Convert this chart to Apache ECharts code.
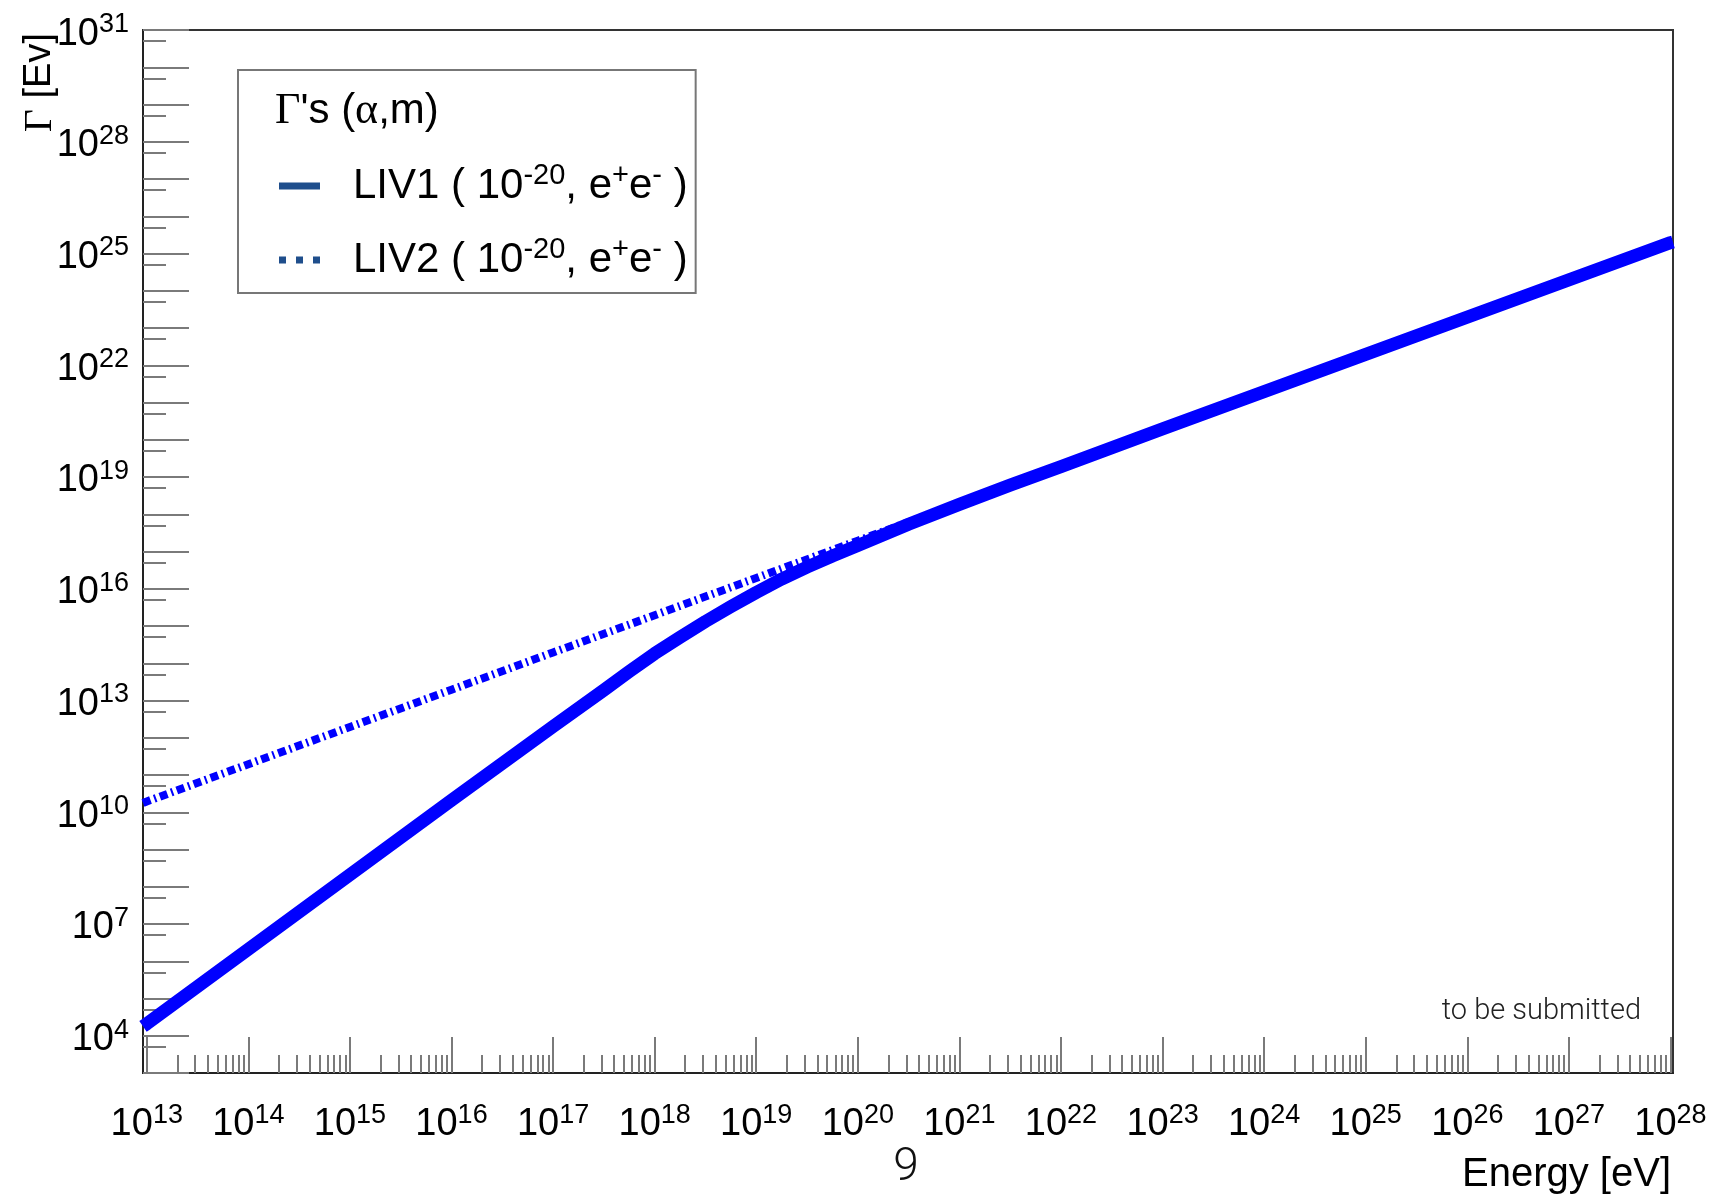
<!DOCTYPE html>
<html>
<head>
<meta charset="utf-8">
<script src="https://cdn.jsdelivr.net/npm/echarts@6/dist/echarts.min.js"></script>
<style>html,body{margin:0;padding:0;background:#fff;}#main{width:1712px;height:1197px;}</style>
</head>
<body>
<div id="main"></div>
<script>
// ---- data ----
const energyLIV1 = [9.18e12, 1e13, 1e14, 1e15, 1e16, 1e17, 3.16e17, 5.62e17, 1e18, 1.78e18, 3.16e18, 5.62e18, 1e19, 1.78e19, 3.16e19, 5.62e19, 1e20, 3.16e20, 1e21, 3.16e21, 1e22, 1e23, 1e24, 1e25, 1e26, 1e27, 1e28, 1.06e28];
const gammaLIV1  = [1.78e4, 2.09e4, 2.09e6, 2.09e8, 2.09e10, 2.0e12, 1.9e13, 6.03e13, 1.82e14, 5.01e14, 1.32e15, 3.31e15, 7.94e15, 1.82e16, 3.8e16, 7.59e16, 1.45e17, 5.4e17, 1.84e18, 6.03e18, 1.91e19, 1.95e20, 1.95e21, 1.95e22, 1.95e23, 1.95e24, 1.95e25, 2.04e25];
const energyLIV2 = [9.18e12, 1e13, 1e14, 1e15, 1e16, 1e17, 1e18, 1e19, 1e20, 1e21, 1e22, 1e23, 1e24, 1e25, 1e26, 1e27, 1e28, 1.06e28];
const gammaLIV2  = [1.78e10, 1.95e10, 1.95e11, 1.95e12, 1.95e13, 1.95e14, 1.95e15, 1.95e16, 1.95e17, 1.95e18, 1.95e19, 1.95e20, 1.95e21, 1.95e22, 1.95e23, 1.95e24, 1.95e25, 2.04e25];
const seriesNames = ['LIV1', 'LIV2'];
const xTickValues = [1e13,1e14,1e15,1e16,1e17,1e18,1e19,1e20,1e21,1e22,1e23,1e24,1e25,1e26,1e27,1e28];
const yLabelValues = [1e4,1e7,1e10,1e13,1e16,1e19,1e22,1e25,1e28,1e31];
const xMin = 9.18e12, xMax = 1.06e28, yMin = 1e3, yMax = 1.001e31;

// tick helpers
const xMinor = [];
for (let e = 12; e <= 27; e++) for (let k = 2; k <= 9; k++) { const v = k * Math.pow(10, e); if (v > xMin && v < xMax) xMinor.push(v); }
const yMajor = [];
for (let e = 3; e <= 31; e++) yMajor.push(Math.pow(10, e));
const yMinor = [];
for (let e = 3; e <= 30; e++) yMinor.push(5 * Math.pow(10, e));

const SANS = '"Liberation Sans", Arial, Helvetica, sans-serif';
const SERIF = '"Liberation Serif", "Times New Roman", serif';
const LIGHT = 'Roboto, "Open Sans", sans-serif';
const tickRich = {
  b: { fontFamily: SANS, fontSize: 38, lineHeight: 46, color: '#000' },
  s: { fontFamily: SANS, fontSize: 27, lineHeight: 20, color: '#000', verticalAlign: 'top' }
};
function powLabel(v) {
  const e = Math.round(Math.log10(v));
  return '{b|10}{s|' + e + '}';
}
const TICK = '#7a7a7a';

const chart = echarts.init(document.getElementById('main'), null, { renderer: 'canvas' });
const option = {
  animation: false,
  backgroundColor: '#fff',
  grid: { left: 143, right: 39, top: 30, bottom: 124, show: true, borderColor: '#333', borderWidth: 2, containLabel: false, outerBoundsMode: 'none' },
  xAxis: [
    { type: 'log', min: xMin, max: xMax, position: 'bottom',
      axisLine: { show: true, lineStyle: { color: '#222', width: 2 } },
      axisTick: { show: true, inside: true, length: 36, customValues: xTickValues, lineStyle: { color: TICK, width: 2 } },
      axisLabel: { show: true, customValues: xTickValues, margin: 29, formatter: powLabel, rich: tickRich },
      splitLine: { show: false }, minorTick: { show: false } },
    { type: 'log', min: xMin, max: xMax, position: 'bottom', offset: 0,
      axisLine: { show: false },
      axisTick: { show: true, inside: true, length: 18, customValues: xMinor, lineStyle: { color: TICK, width: 2 } },
      axisLabel: { show: false }, splitLine: { show: false } }
  ],
  yAxis: [
    { type: 'log', min: yMin, max: yMax, position: 'left',
      axisLine: { show: true, lineStyle: { color: '#222', width: 2 } },
      axisTick: { show: true, inside: true, length: 46, customValues: yMajor, lineStyle: { color: TICK, width: 2 } },
      axisLabel: { show: true, customValues: yLabelValues, margin: 14, padding: [8, 0, 0, 0], formatter: powLabel, rich: tickRich },
      splitLine: { show: false } },
    { type: 'log', min: yMin, max: yMax, position: 'left', offset: 0,
      axisLine: { show: false },
      axisTick: { show: true, inside: true, length: 23, customValues: yMinor, lineStyle: { color: TICK, width: 2 } },
      axisLabel: { show: false }, splitLine: { show: false } }
  ],
  legend: {
    orient: 'vertical', left: 238, top: 70,
    padding: [91, 8, 12, 41], itemGap: 28,
    itemWidth: 41, itemHeight: 7,
    borderColor: '#777', borderWidth: 2, backgroundColor: '#fff',
    itemStyle: { color: '#1f4e8c', borderWidth: 0 },
    data: [
      { name: seriesNames[0], icon: 'path://M0,0H41V7H0Z' },
      { name: seriesNames[1], icon: 'path://M0,0H7V7H0Z M17,0H24V7H17Z M34,0H41V7H34Z' }
    ],
    formatter: function (name) {
      return '{sp| }{n|' + name + ' ( 10}{s|-20}{n|, e}{s|+}{n|e}{s|-}{n| )}';
    },
    textStyle: {
      rich: {
        sp: { width: 28, fontSize: 10 },
        n: { fontFamily: SANS, fontSize: 42, lineHeight: 50, color: '#000' },
        s: { fontFamily: SANS, fontSize: 29, lineHeight: 22, color: '#000', verticalAlign: 'top' }
      }
    },
    selectedMode: false
  },
  series: [
    { name: seriesNames[0], type: 'line', xAxisIndex: 0, yAxisIndex: 0,
      data: energyLIV1.map((e, i) => [e, gammaLIV1[i]]),
      showSymbol: false, symbol: 'none', smooth: false,
      lineStyle: { color: '#0000ff', width: 13, cap: 'butt', join: 'round' }, itemStyle: { color: '#0000ff' }, z: 3 },
    { name: seriesNames[1], type: 'line', xAxisIndex: 0, yAxisIndex: 0,
      data: energyLIV2.map((e, i) => [e, gammaLIV2[i]]),
      showSymbol: false, symbol: 'none',
      lineStyle: { color: '#0000ff', width: 8, type: [8, 4, 2, 4], cap: 'butt' }, itemStyle: { color: '#0000ff' }, z: 4 }
  ],
  graphic: [
    { type: 'text', x: 40, y: 33, rotation: Math.PI / 2,
      style: { text: '{g|Γ}{n| [Ev]}', align: 'right', verticalAlign: 'middle',
        rich: { g: { fontFamily: SERIF, fontSize: 40, fill: '#000' }, n: { fontFamily: SANS, fontSize: 38, fill: '#000' } } } },
    { type: 'text', x: 275, y: 111,
      style: { text: "{g|Γ}{n|'s (}{g|α}{n|,m)}", align: 'left', verticalAlign: 'middle',
        rich: { g: { fontFamily: SERIF, fontSize: 44, fill: '#000' }, n: { fontFamily: SANS, fontSize: 42, fill: '#000' } } }, z: 100 },
    { type: 'text', x: 1671, y: 1175,
      style: { text: 'Energy [eV]', fontFamily: SANS, fontSize: 40, fill: '#000', align: 'right', verticalAlign: 'middle' } },
    { type: 'text', x: 906, y: 1168,
      style: { text: '9', fontFamily: LIGHT, fontWeight: 300, fontSize: 46, fill: '#111', align: 'center', verticalAlign: 'middle' } },
    { type: 'text', x: 1641, y: 1012,
      style: { text: 'to be submitted', fontFamily: LIGHT, fontWeight: 300, fontSize: 29, fill: '#222', align: 'right', verticalAlign: 'middle' } }
  ]
};
chart.setOption(option);
</script>
</body>
</html>
